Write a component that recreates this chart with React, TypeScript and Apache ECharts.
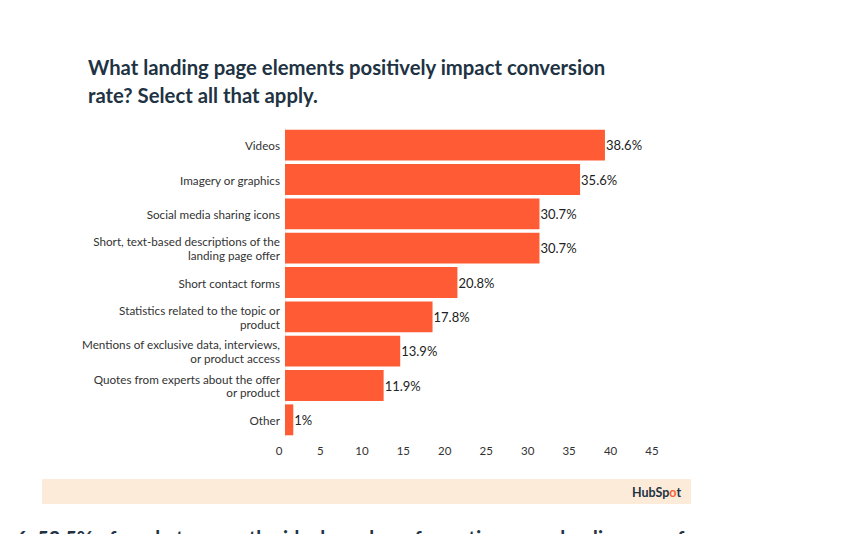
import React, { useEffect, useRef } from "react";
import * as echarts from "echarts";

const titleLines = [
  "What landing page elements positively impact conversion",
  "rate? Select all that apply.",
];
const categories = [
  "Videos",
  "Imagery or graphics",
  "Social media sharing icons",
  "Short, text-based descriptions of the\nlanding page offer",
  "Short contact forms",
  "Statistics related to the topic or\nproduct",
  "Mentions of exclusive data, interviews,\nor product access",
  "Quotes from experts about the offer\nor product",
  "Other",
];
const values = [38.6, 35.6, 30.7, 30.7, 20.8, 17.8, 13.9, 11.9, 1];
const axisMin = 0;
const axisMax = 45;
const axisStep = 5;
const footerText =
  "6. 52.5% of marketers say the ideal number of questions on a landing page form";

const FONT = "Lato, 'Noto Sans', sans-serif";

export default function App() {
  const ref = useRef<HTMLDivElement>(null);
  useEffect(() => {
    if (!ref.current) return;
    const chart = echarts.init(ref.current, null, { renderer: "svg" });
    chart.setOption({
      animation: false,
      backgroundColor: "#ffffff",
      grid: { left: 285, top: 128, width: 373, height: 309, containLabel: false },
      xAxis: {
        type: "value",
        min: axisMin,
        max: axisMax,
        interval: axisStep,
        splitLine: { show: false },
        axisLine: { show: false },
        axisTick: { show: false },
        axisLabel: {
          color: "#333333",
          fontSize: 11.5,
          fontFamily: FONT,
          margin: 7,
          padding: [0, 12, 0, 0],
        },
      },
      yAxis: {
        type: "category",
        inverse: true,
        data: categories,
        axisLine: { show: true, lineStyle: { color: "#eeeeee" } },
        axisTick: { show: false },
        axisLabel: {
          color: "#333333",
          fontSize: 11.7,
          fontFamily: FONT,
          margin: 5,
          lineHeight: 13.5,
          align: "right",
        },
      },
      series: [
        {
          type: "bar",
          data: values,
          barCategoryGap: "10%",
          itemStyle: { color: "#FF5C35" },
          label: {
            show: true,
            position: "right",
            distance: 1,
            formatter: (p: any) => p.value + "%",
            color: "#222222",
            fontSize: 13,
            fontFamily: FONT,
          },
        },
      ],
      graphic: [
        {
          type: "text",
          left: 88,
          top: 53,
          style: {
            text: titleLines.join("\n"),
            fill: "#213343",
            font: `bold 20.3px ${FONT}`,
            lineHeight: 28,
          },
        },
        {
          type: "rect",
          shape: { x: 42, y: 479, width: 649, height: 25 },
          style: { fill: "#FCEBD9" },
          silent: true,
        },
        {
          type: "text",
          x: 632,
          y: 492,
          style: {
            text: "{a|HubSp}{b|o}{a|t}",
            verticalAlign: "middle",
            rich: {
              a: { fill: "#213343", font: `bold 12.5px ${FONT}` },
              b: { fill: "#FF5C35", font: `bold 12.5px ${FONT}` },
            },
          },
        },
        {
          type: "text",
          x: 16,
          y: 528,
          style: {
            text: footerText,
            fill: "#213343",
            font: `bold 20px ${FONT}`,
          },
        },
      ],
    });
    return () => chart.dispose();
  }, []);
  return (
    <div
      ref={ref}
      style={{ position: "fixed", left: 0, top: 0, width: 868, height: 534 }}
    />
  );
}
